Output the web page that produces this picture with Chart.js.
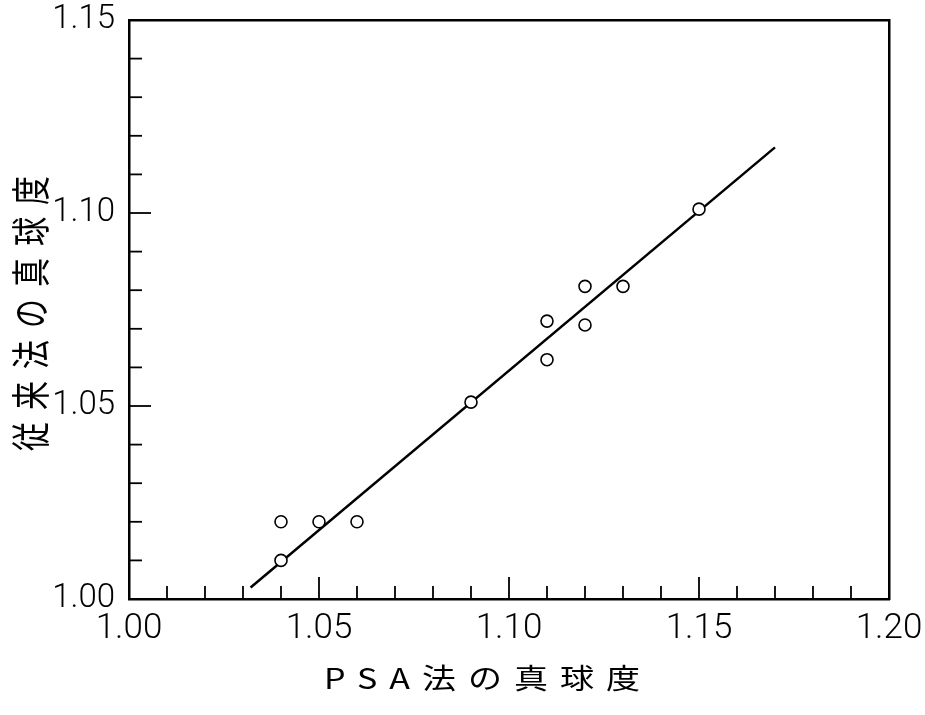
<!DOCTYPE html>
<html><head><meta charset="utf-8">
<script src="https://cdn.jsdelivr.net/npm/chart.js@4.4.0/dist/chart.umd.min.js"></script>
<style>html,body{margin:0;padding:0;background:#fff;}#wrap{width:925px;height:715px;}</style>
</head><body><div id="wrap"><canvas id="c" width="925" height="715"></canvas></div>
<script>
const X_TITLE = 'PSA法の真球度';
const Y_TITLE = '従来法の真球度';
const X_TICK_LABELS = ['1.00', '1.05', '1.10', '1.15', '1.20'];
const Y_TICK_LABELS = ['1.00', '1.05', '1.10', '1.15'];
const PSA_VALUES  = [1.04, 1.04, 1.05, 1.06, 1.09, 1.11, 1.11, 1.12, 1.12, 1.13, 1.15];
const CONV_VALUES = [1.010, 1.020, 1.020, 1.020, 1.051, 1.072, 1.062, 1.081, 1.071, 1.081, 1.101];
const FIT_X = [1.032, 1.170];
const FIT_Y = [1.003, 1.117];

const TICK_FONT = "Roboto,'Liberation Sans',sans-serif";
const CJK_FONT = "'Noto Sans CJK JP','Noto Sans CJK SC',sans-serif";

function labelFor(list, v) {
  const s = v.toFixed(2);
  return list.includes(s) ? s : '';
}
function zeroPad(s) { s.paddingTop = 0; s.paddingBottom = 0; s.paddingLeft = 0; s.paddingRight = 0; }

const innerTicks = {
  id: 'innerTicks',
  afterDraw(chart) {
    const ctx = chart.ctx, a = chart.chartArea;
    ctx.save();
    ctx.strokeStyle = '#000';
    ctx.lineWidth = 1.8;
    const xs = chart.scales.x, ys = chart.scales.y;
    xs.ticks.forEach(t => {
      const px = xs.getPixelForValue(t.value);
      if (px <= a.left + 2 || px >= a.right - 2) return;
      const L = labelFor(X_TICK_LABELS, t.value) ? 22 : 13;
      ctx.beginPath(); ctx.moveTo(px, a.bottom); ctx.lineTo(px, a.bottom - L); ctx.stroke();
    });
    ys.ticks.forEach(t => {
      const py = ys.getPixelForValue(t.value);
      if (py <= a.top + 2 || py >= a.bottom - 2) return;
      const L = labelFor(Y_TICK_LABELS, t.value) ? 22 : 13;
      ctx.beginPath(); ctx.moveTo(a.left, py); ctx.lineTo(a.left + L, py); ctx.stroke();
    });
    ctx.restore();
  }
};

const axisTitles = {
  id: 'axisTitles',
  afterDraw(chart) {
    const ctx = chart.ctx, a = chart.chartArea;
    ctx.save();
    ctx.fillStyle = '#000';
    ctx.textBaseline = 'middle';
    ctx.textAlign = 'center';
    // x title
    ctx.save();
    ctx.font = '34px ' + CJK_FONT;
    ctx.letterSpacing = '12px';
    ctx.translate(a.left + (a.right - a.left) / 2 - 27 + 6, 678);
    ctx.scale(1, 0.82);
    ctx.fillText(X_TITLE, 0, 0);
    ctx.restore();
    // y title
    ctx.save();
    ctx.font = '29px ' + CJK_FONT;
    ctx.letterSpacing = '12px';
    ctx.translate(30, (a.top + a.bottom) / 2 - 2);
    ctx.rotate(-Math.PI / 2);
    ctx.scale(1, 1.35);
    ctx.fillText(Y_TITLE, 0, 0);
    ctx.restore();
    ctx.restore();
  }
};

const border = { display: true, color: '#000', width: 2.5 };
const noGrid = { display: false, drawTicks: false, drawOnChartArea: false };

new Chart(document.getElementById('c'), {
  type: 'scatter',
  data: {
    datasets: [
      {
        label: 'data',
        data: PSA_VALUES.map((x, i) => ({ x, y: CONV_VALUES[i] })),
        showLine: false,
        pointRadius: 6,
        pointHoverRadius: 6,
        pointBorderWidth: 1.6,
        pointBackgroundColor: '#fff',
        pointBorderColor: '#000',
        order: 0
      },
      {
        label: 'fit',
        data: FIT_X.map((x, i) => ({ x, y: FIT_Y[i] })),
        showLine: true,
        borderColor: '#000',
        borderWidth: 2.5,
        pointRadius: 0,
        fill: false,
        order: 1
      }
    ]
  },
  options: {
    responsive: false,
    devicePixelRatio: 1,
    animation: false,
    layout: { autoPadding: false, padding: { left: 0, right: 36, top: 20, bottom: 0 } },
    plugins: { legend: { display: false }, tooltip: { enabled: false }, title: { display: false } },
    scales: {
      x: {
        type: 'linear', position: 'bottom', min: 1.0, max: 1.2,
        grid: noGrid, border,
        ticks: {
          stepSize: 0.01, autoSkip: false, maxRotation: 0, minRotation: 0,
          color: '#000', padding: 9,
          font: { family: TICK_FONT, size: 35, weight: 300 },
          callback: v => labelFor(X_TICK_LABELS, v)
        },
        afterFit: s => { s.height = 116; zeroPad(s); }
      },
      y: {
        type: 'linear', position: 'left', min: 1.0, max: 1.15,
        grid: noGrid, border,
        ticks: {
          stepSize: 0.01, autoSkip: false, color: '#000', padding: 14,
          font: { family: TICK_FONT, size: 33, weight: 300 },
          callback: v => labelFor(Y_TICK_LABELS, v)
        },
        afterFit: s => { s.width = 129; zeroPad(s); }
      },
      x2: {
        type: 'linear', position: 'top', min: 1.0, max: 1.2,
        grid: noGrid, border, ticks: { display: false },
        afterFit: s => { s.height = 0; zeroPad(s); }
      },
      y2: {
        type: 'linear', position: 'right', min: 1.0, max: 1.15,
        grid: noGrid, border, ticks: { display: false },
        afterFit: s => { s.width = 0; zeroPad(s); }
      }
    }
  },
  plugins: [innerTicks, axisTitles]
});
</script>
</body></html>
